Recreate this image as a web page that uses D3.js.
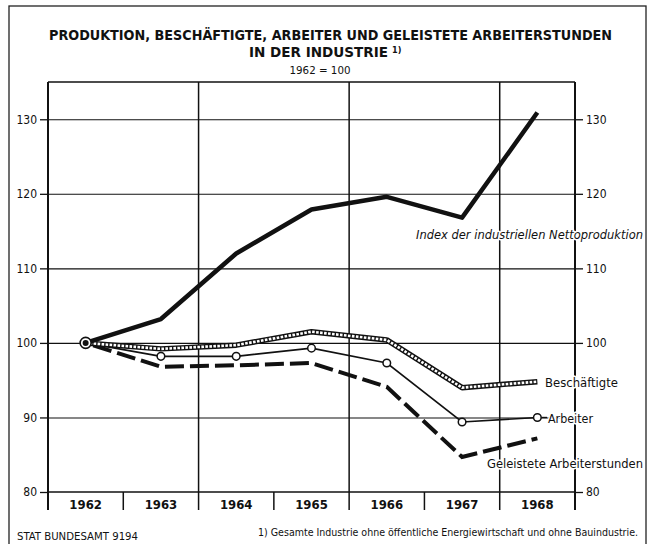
<!DOCTYPE html>
<html lang="de">
<head>
  <meta charset="UTF-8">
  <title>Produktion, Beschäftigte, Arbeiter</title>
</head>
<body>
<style>
  * {
    padding: 0;
    margin: 0;
  }

  body {
    background: #fff;
  }

  #app {
    width: 649px;
    height: 544px;
  }

  #app svg {
    display: block;
  }

  text {
    font-family: "Liberation Sans Narrow", "DejaVu Sans Condensed", "Noto Sans", sans-serif;
    fill: #111;
  }

  .halo {
    paint-order: stroke;
    stroke: #fff;
    stroke-width: 3px;
    stroke-linejoin: round;
  }
</style>

<div id="app"></div>

<script src="https://cdn.jsdelivr.net/npm/d3@7/dist/d3.min.js"></script>
<script>
  // Daten, 1962 = 100
  var years = [1962, 1963, 1964, 1965, 1966, 1967, 1968];
  var produktion = [100, 103.2, 112.0, 117.9, 119.6, 116.8, 130.9];
  var beschaeftigte = [100, 99.2, 99.7, 101.5, 100.4, 94.0, 94.8];
  var arbeiter = [100, 98.2, 98.2, 99.3, 97.3, 89.4, 90.0];
  var stunden = [100, 96.8, 97.0, 97.3, 94.1, 84.7, 87.2];
  var yTicks = [80, 90, 100, 110, 120, 130];

  function drawChart() {
    var
      left = 48, right = 575, top = 82, base = 492, bottom = 510,
      svg = d3.select('#app').append('svg').attr('width', 649).attr('height', 544),
      x = d3.scaleBand().domain(years).range([left, right]),
      y = d3.scaleLinear().domain([80, 135]).range([base, top]),
      cx = d => x(d) + x.bandwidth() / 2;

    // äußerer Rahmen
    svg.append('rect')
      .attr('x', 9).attr('y', 6).attr('width', 637).attr('height', 545)
      .attr('fill', 'none').attr('stroke', '#222').attr('stroke-width', 1.3);

    // Titel
    svg.append('text').attr('x', 49).attr('y', 40)
      .attr('textLength', 563).attr('lengthAdjust', 'spacingAndGlyphs')
      .style('font-size', '14px').style('font-weight', 'bold')
      .text('PRODUKTION, BESCHÄFTIGTE, ARBEITER UND GELEISTETE ARBEITERSTUNDEN');
    var t2 = svg.append('text').attr('x', 249).attr('y', 57)
      .style('font-size', '14px').style('font-weight', 'bold');
    t2.append('tspan').attr('textLength', 139).attr('lengthAdjust', 'spacingAndGlyphs').text('IN DER INDUSTRIE');
    t2.append('tspan').attr('dx', 4).attr('dy', -4).style('font-size', '9px').text('1)');
    svg.append('text').attr('x', 320).attr('y', 74).attr('text-anchor', 'middle')
      .attr('textLength', 61).attr('lengthAdjust', 'spacingAndGlyphs')
      .style('font-size', '11px').text('1962 = 100');

    // horizontale Gitterlinien
    svg.append('g')
      .attr('transform', 'translate(' + left + ',0)')
      .call(d3.axisLeft(y).tickValues(yTicks.slice(1)).tickSize(-(right - left)).tickFormat(''))
      .call(g => g.select('.domain').remove())
      .call(g => g.selectAll('line').attr('stroke', '#111').attr('stroke-width', 1.1));

    // Rahmen oben und Grundlinie
    svg.append('line').attr('x1', left).attr('x2', right).attr('y1', top).attr('y2', top)
      .attr('stroke', '#111').attr('stroke-width', 1.5);
    svg.append('line').attr('x1', left).attr('x2', right).attr('y1', y(80)).attr('y2', y(80))
      .attr('stroke', '#111').attr('stroke-width', 1.5);

    // senkrechte Linien: volle Höhe bei 1964, 1966, 1968, kurze Trenner sonst
    years.slice(1).forEach(function (yr, i) {
      var full = i % 2 === 1;
      svg.append('line')
        .attr('x1', x(yr)).attr('x2', x(yr))
        .attr('y1', full ? top : base).attr('y2', bottom)
        .attr('stroke', '#111').attr('stroke-width', 1.5);
    });

    // Achsen links und rechts
    svg.append('g')
      .attr('transform', 'translate(' + left + ',0)')
      .call(d3.axisLeft(y).tickValues(yTicks).tickSize(8).tickPadding(3).tickFormat(d3.format('d')))
      .call(g => g.select('.domain').remove())
      .call(g => g.selectAll('line').attr('stroke', '#111').attr('stroke-width', 1.3))
      .call(g => g.selectAll('text').style('font-size', '12px').attr('fill', '#111'));
    svg.append('g')
      .attr('transform', 'translate(' + right + ',0)')
      .call(d3.axisRight(y).tickValues(yTicks).tickSize(8).tickPadding(3)
        .tickFormat(d => d === 90 ? '' : d3.format('d')(d)))
      .call(g => g.select('.domain').remove())
      .call(g => g.selectAll('line').attr('stroke', '#111').attr('stroke-width', 1.3))
      .call(g => g.selectAll('text').style('font-size', '12px').attr('fill', '#111'));
    [left, right].forEach(function (xx) {
      svg.append('line').attr('x1', xx).attr('x2', xx).attr('y1', top).attr('y2', bottom)
        .attr('stroke', '#111').attr('stroke-width', 2);
    });

    // Jahre
    svg.append('g')
      .attr('transform', 'translate(0,' + base + ')')
      .call(d3.axisBottom(x).tickSize(0).tickPadding(7))
      .call(g => g.select('.domain').remove())
      .call(g => g.selectAll('text').style('font-size', '13px').style('font-weight', 'bold')
        .attr('fill', '#111').attr('dy', '0.75em'));

    function pts(vals) {
      return years.map((yr, i) => [cx(yr), y(vals[i])]);
    }
    var line = d3.line();

    // Geleistete Arbeiterstunden (gestrichelt)
    svg.append('path').attr('d', line(pts(stunden)))
      .attr('fill', 'none').attr('stroke', '#111').attr('stroke-width', 4)
      .attr('stroke-dasharray', '19,6').attr('stroke-dashoffset', -8);

    // Arbeiter (dünn mit Kreisen)
    svg.append('path').attr('d', line(pts(arbeiter)))
      .attr('fill', 'none').attr('stroke', '#111').attr('stroke-width', 1.6);

    // Beschäftigte (Doppellinie)
    svg.append('path').attr('d', line(pts(beschaeftigte)))
      .attr('fill', 'none').attr('stroke', '#111').attr('stroke-width', 5.5)
      .attr('stroke-linejoin', 'round');
    svg.append('path').attr('d', line(pts(beschaeftigte)))
      .attr('fill', 'none').attr('stroke', '#fff').attr('stroke-width', 2.6)
      .attr('stroke-dasharray', '2.6,1.4').attr('stroke-linejoin', 'round');

    // Produktion (dick)
    svg.append('path').attr('d', line(pts(produktion)))
      .attr('fill', 'none').attr('stroke', '#111').attr('stroke-width', 4.5)
      .attr('stroke-linejoin', 'round');

    svg.append('g').selectAll('circle')
      .data(pts(arbeiter).slice(1))
      .join('circle')
      .attr('cx', d => d[0]).attr('cy', d => d[1]).attr('r', 3.8)
      .attr('fill', '#fff').attr('stroke', '#111').attr('stroke-width', 1.5);

    // Startpunkt 1962
    svg.append('circle').attr('cx', cx(1962)).attr('cy', y(100)).attr('r', 5.5)
      .attr('fill', '#fff').attr('stroke', '#111').attr('stroke-width', 1.6);
    svg.append('circle').attr('cx', cx(1962)).attr('cy', y(100)).attr('r', 3)
      .attr('fill', '#111');

    // Beschriftungen der Linien
    svg.append('text').attr('class', 'halo').attr('x', 416).attr('y', 239)
      .attr('textLength', 227).attr('lengthAdjust', 'spacingAndGlyphs')
      .style('font-size', '13px').style('font-style', 'italic')
      .text('Index der industriellen Nettoproduktion');
    svg.append('text').attr('class', 'halo').attr('x', 545).attr('y', 387)
      .attr('textLength', 73).attr('lengthAdjust', 'spacingAndGlyphs')
      .style('font-size', '13px').text('Beschäftigte');
    svg.append('line').attr('x1', cx(1968) + 4).attr('x2', 547)
      .attr('y1', y(90)).attr('y2', y(90)).attr('stroke', '#111').attr('stroke-width', 1.3);
    svg.append('text').attr('class', 'halo').attr('x', 548).attr('y', 423)
      .attr('textLength', 45).attr('lengthAdjust', 'spacingAndGlyphs')
      .style('font-size', '13px').text('Arbeiter');
    svg.append('text').attr('class', 'halo').attr('x', 487).attr('y', 468)
      .attr('textLength', 156).attr('lengthAdjust', 'spacingAndGlyphs')
      .style('font-size', '13px').text('Geleistete Arbeiterstunden');

    // Fußnoten
    svg.append('text').attr('x', 17).attr('y', 540)
      .attr('textLength', 121).attr('lengthAdjust', 'spacingAndGlyphs')
      .style('font-size', '10px').text('STAT BUNDESAMT 9194');
    svg.append('text').attr('x', 258).attr('y', 536)
      .attr('textLength', 380).attr('lengthAdjust', 'spacingAndGlyphs')
      .style('font-size', '10px')
      .text('1) Gesamte Industrie ohne öffentliche Energiewirtschaft und ohne Bauindustrie.');
  }

  drawChart();
</script>

</body>
</html>
